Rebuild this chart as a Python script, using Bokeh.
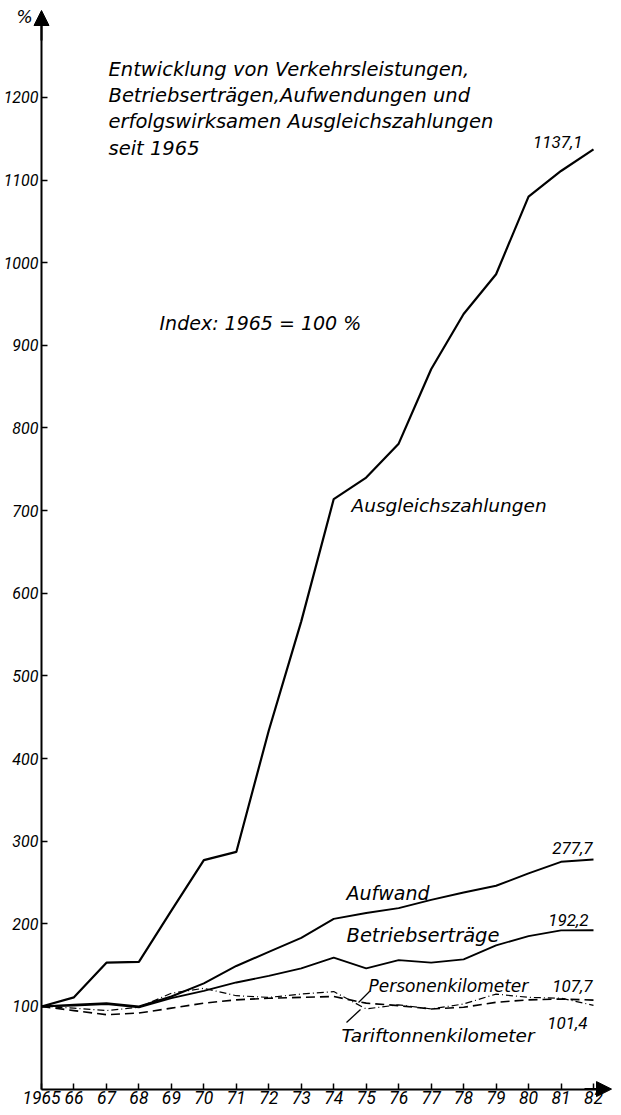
from bokeh.plotting import figure
from bokeh.models import FixedTicker, Arrow, NormalHead, Label, Range1d, ColumnDataSource
from bokeh.embed import file_html
from bokeh.resources import INLINE

# ---- data ----
years = list(range(1965, 1983))
ausgleich = [100, 111, 153, 154, 216, 277, 287, 434, 566, 714, 740, 781, 871, 938, 986, 1080, 1111, 1137.1]
aufwand = [100, 102, 104, 100, 112, 128, 149, 166, 183, 206, 213, 219, 229, 238, 246, 261, 275, 277.7]
betrieb = [100, 101, 103, 99, 110, 119, 129, 137, 146, 159, 146, 156, 153, 157, 174, 185, 192, 192.2]
personen = [100, 95, 90, 92, 98, 104, 108, 110, 111, 112, 104, 101, 97, 99, 105, 108, 109, 107.7]
tarif = [100, 98, 95, 99, 116, 122, 113, 111, 115, 118, 97, 102, 97, 103, 115, 111, 110, 101.4]
x_tick_labels = ["1965"] + [str(y)[2:] for y in years[1:]]
y_ticks = list(range(100, 1300, 100))

FONT = "DejaVu Sans"
NUMFONT = "Roboto"

# pixel geometry
PX_YEAR = 32.47          # px per year
X0_REF = 42              # picture x of 1965
PX_UNIT = 0.8264         # px per index point
Y0_REF = 1088.6          # picture y of 0 %
OFF_X, OFF_Y = 1, 0      # picture position of the canvas' top-left corner
W, H = 612, 1107


def px(xr, yr):
    """picture-pixel position -> data coordinates (for annotation placement)"""
    return 1965 + (xr - X0_REF) / PX_YEAR, (Y0_REF - yr) / PX_UNIT


x_start = 1965 - (X0_REF - OFF_X) / PX_YEAR
y_end = (Y0_REF - OFF_Y) / PX_UNIT
p = figure(width=W, height=H, output_backend="svg", toolbar_location=None,
           x_range=Range1d(x_start, x_start + W / PX_YEAR),
           y_range=Range1d(y_end - H / PX_UNIT, y_end),
           min_border_left=0, min_border_right=0, min_border_top=0, min_border_bottom=0)
p.outline_line_color = None
p.grid.visible = False
p.background_fill_color = "white"

# axes, drawn at fixed data positions
p.xaxis.fixed_location = 0
p.yaxis.fixed_location = 1965
p.xaxis.bounds = (1965, 1982.4)
p.yaxis.bounds = (0, 1300)
p.xaxis.ticker = FixedTicker(ticks=years)
p.xaxis.major_label_overrides = {y: l for y, l in zip(years, x_tick_labels)}
p.yaxis.ticker = FixedTicker(ticks=y_ticks)
for ax in (p.xaxis, p.yaxis):
    ax.axis_line_width = 2
    ax.axis_line_color = "black"
    ax.major_tick_line_color = "black"
    ax.major_tick_line_width = 1.5
    ax.major_tick_in = 6
    ax.major_tick_out = 0
    ax.minor_tick_line_color = None
    ax.major_label_text_font = NUMFONT
    ax.major_label_text_font_style = "italic"
    ax.major_label_text_font_size = "16px"
    ax.major_label_text_color = "black"
    ax.major_label_standoff = 3
p.xaxis.major_label_standoff = 2
p.xaxis.major_label_text_font_size = "17.5px"

# lines
p.line(years, ausgleich, line_color="black", line_width=2.2)
p.line(years, aufwand, line_color="black", line_width=2)
p.line(years, betrieb, line_color="black", line_width=1.8)
p.line(years, personen, line_color="black", line_width=1.6, line_dash="9 5")
p.line(years, tarif, line_color="black", line_width=1.2, line_dash="7 3 1 3")

# axis arrows
ay0 = px(0, 40)[1]
ay1 = px(0, 10)[1]
p.add_layout(Arrow(x_start=1965, y_start=ay0, x_end=1965, y_end=ay1, line_width=2,
                   end=NormalHead(size=15, fill_color="black", line_color="black")))
ax0 = px(585, 0)[0]
ax1 = px(612, 0)[0]
p.add_layout(Arrow(x_start=ax0, y_start=0, x_end=ax1, y_end=0, line_width=2,
                   end=NormalHead(size=15, fill_color="black", line_color="black")))


def lab(text, xr, yr, size="18px", align="left", font=FONT):
    x, y = px(xr, yr)
    p.add_layout(Label(x=x, y=y, text=text, text_font=font, text_font_style="italic",
                       text_font_size=size, text_baseline="middle", text_align=align,
                       text_color="black"))


lab("%", 17, 16, size="17px")
lab("Entwicklung von Verkehrsleistungen,", 109, 69, size="19.5px")
lab("Betriebserträgen,Aufwendungen und", 109, 95, size="19.5px")
lab("erfolgswirksamen Ausgleichszahlungen", 109, 121, size="19.5px")
lab("seit 1965", 109, 148, size="19.5px")
lab("Index: 1965 = 100 %", 160, 322, size="19px")
lab("Ausgleichszahlungen", 352, 505, size="18.5px")
lab("Aufwand", 347, 892, size="19px")
lab("Betriebserträge", 347, 935, size="19.5px")
lab("Personenkilometer", 369, 985, size="17px")
lab("Tariftonnenkilometer", 342, 1035, size="18.5px")
lab("1137,1", 583, 141, size="17px", align="right", font=NUMFONT)
lab("277,7", 593, 847, size="17px", align="right", font=NUMFONT)
lab("192,2", 589, 919, size="17px", align="right", font=NUMFONT)
lab("107,7", 593, 985, size="17px", align="right", font=NUMFONT)
lab("101,4", 588, 1022, size="17px", align="right", font=NUMFONT)

# pointer strokes from the two small labels to their lines
x0, y0 = px(370, 991)
x1, y1 = px(359, 1002)
x2, y2 = px(347, 1022)
x3, y3 = px(361, 1009)
ptr = ColumnDataSource(dict(x0=[x0, x2], y0=[y0, y2], x1=[x1, x3], y1=[y1, y3]))
p.segment("x0", "y0", "x1", "y1", source=ptr, line_color="black", line_width=1.3)

open("out.html", "w").write(file_html(p, INLINE))
